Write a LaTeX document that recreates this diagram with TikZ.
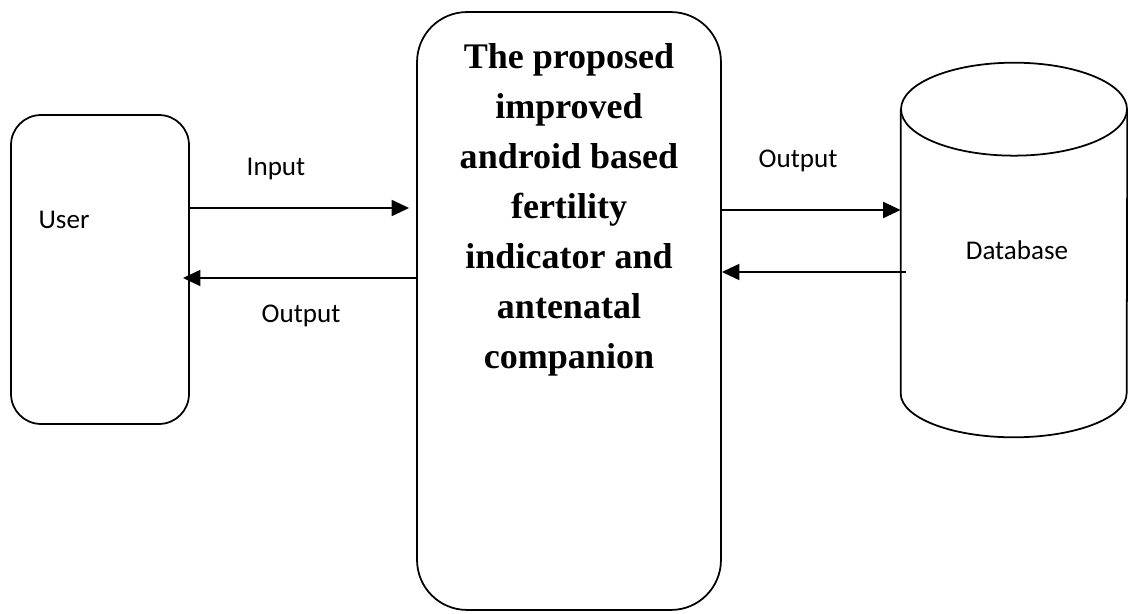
\documentclass[tikz,border=0pt]{standalone}
\usepackage{fontspec}
\setmainfont{Liberation Serif}
\newfontfamily\labelfont{Carlito}
\usepackage{tikz}
\usetikzlibrary{arrows.meta,positioning,shapes.geometric}
\tikzset{
  roundbox/.style={draw,line width=1pt,inner sep=0pt},
  store/.style={minimum width=4.52cm,minimum height=7.48cm,inner sep=0pt},
  dbline/.style={line width=1pt},
  arrowthick/.style={-{Triangle[length=10pt,width=9pt]},line width=1.5pt},
  lbl/.style={font=\labelfont\fontsize{15.4}{18}\selectfont,inner sep=0pt,
              anchor=base},
}

\begin{document}
\begin{tikzpicture}[x=0.02cm,y=-0.02cm]
  \useasboundingbox (0,0) rectangle (1128,614);
  \node[roundbox,rounded corners=0.6cm,minimum width=3.56cm,
        minimum height=6.18cm] (user) at (100,269.5) {};
  \node[roundbox,rounded corners=1cm,minimum width=6.08cm,
        minimum height=11.96cm] (main) at (569,311) {};
  \node[store] (db) at (1014,250) {};
  % cylinder
  \draw[dbline] ([yshift=-0.93cm]db.north)
    ellipse [x radius=2.26cm,y radius=0.93cm];
  \draw[dbline] ([yshift=-0.93cm]db.north west)
    -- ([yshift=0.88cm]db.south west)
    arc [start angle=180,end angle=360,x radius=2.26cm,y radius=0.88cm]
    -- ([yshift=-0.93cm]db.north east);
  \node[anchor=north,align=center,inner sep=0pt,
        font=\bfseries\fontsize{20.5}{28.45}\selectfont]
    (title) at (569,43)
    {The proposed\\improved\\android based\\fertility\\indicator and\\antenatal\\companion};
  % labels
  \node[lbl] (userlbl) at (64,229) {User};
  \node[lbl] (dblbl) at (1017,260) {Database};
  \node[lbl] (inlbl) at (276,176) {Input};
  \node[lbl] (outleft) at (301,323) {Output};
  \node[lbl] (outright) at (798,168) {Output};
  % connectors
  \draw[arrowthick,shorten >=0.14cm] (user.east |- 0,208) -- (main.west |- 0,208);
  \draw[arrowthick,shorten >=-0.14cm] (main.west |- 0,278) -- (user.east |- 0,278);
  \draw[arrowthick] (main.east |- 0,210) -- (db.west |- 0,210);
  \draw[arrowthick,shorten <=-0.1cm] (db.west |- 0,272) -- (main.east |- 0,272);
\end{tikzpicture}
\end{document}
